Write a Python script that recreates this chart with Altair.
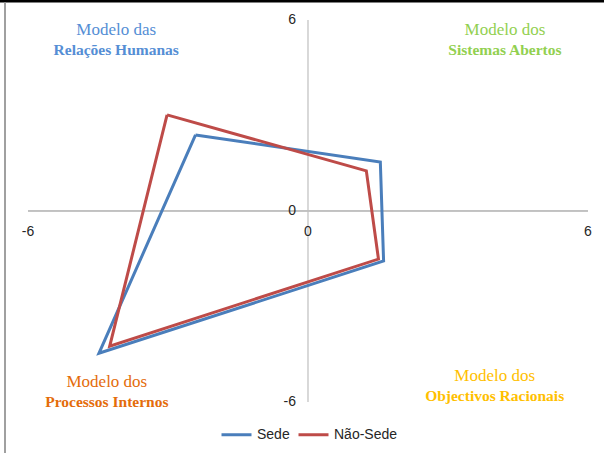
import altair as alt
import pandas as pd

# Polygon vertices (x, y)
sede_x = [-2.41, 1.55, 1.62, -4.48]
sede_y = [2.39, 1.54, -1.57, -4.47]
nao_x = [-3.02, 1.25, 1.51, -4.25]
nao_y = [3.02, 1.26, -1.51, -4.25]

series_names = ["Sede", "Não-Sede"]
series_colors = ["#4A7EBB", "#BE4B48"]

tick_vals = [-6, 0, 6]

quad_top = ["Modelo das", "Modelo dos", "Modelo dos", "Modelo dos"]
quad_bottom = ["Relações Humanas", "Sistemas Abertos", "Processos Internos", "Objectivos Racionais"]
quad_colors = ["#558ED5", "#92D050", "#E46C0A", "#FFC000"]
quad_x = [-4.11, 4.22, -4.31, 4.0]
quad_y1 = [5.69, 5.69, -5.37, -5.18]
quad_y2 = [5.06, 5.06, -6.0, -5.81]

rows = []
for name, xs, ys in [("Sede", sede_x, sede_y), ("Não-Sede", nao_x, nao_y)]:
    n = len(xs)
    for i in range(n + 1):
        rows.append({"serie": name, "x": xs[i % n], "y": ys[i % n], "o": i})
poly = pd.DataFrame(rows)

W, H = 604, 453
xs_ = alt.Scale(domain=[-6.6, 6.343], range=[0, W], nice=False, zero=False)
ys_ = alt.Scale(domain=[-7.603, 6.629], range=[H, 0], nice=False, zero=False)

X = lambda f: alt.X(f, type="quantitative", scale=xs_, axis=None)
Y = lambda f: alt.Y(f, type="quantitative", scale=ys_, axis=None)

# axes
hax = alt.Chart(pd.DataFrame({"x": [tick_vals[0]], "x2": [tick_vals[-1]], "y": [0]})).mark_rule(
    color="#868686", strokeWidth=1).encode(x=X("x"), x2="x2", y=Y("y"))
vax = alt.Chart(pd.DataFrame({"y": [tick_vals[0]], "y2": [tick_vals[-1]], "x": [0]})).mark_rule(
    color="#BFBFBF", strokeWidth=1.2).encode(y=Y("y"), y2="y2", x=X("x"))

xt = alt.Chart(pd.DataFrame({"v": tick_vals, "z": [0] * 3, "t": [str(v) for v in tick_vals]})).mark_text(
    font="Liberation Sans", fontSize=14, color="#262626", dy=21, align="center", baseline="middle"
).encode(x=X("v"), y=Y("z"), text="t:N")
yt = alt.Chart(pd.DataFrame({"v": tick_vals, "z": [0] * 3, "t": [str(v) for v in tick_vals]})).mark_text(
    font="Liberation Sans", fontSize=14, color="#262626", dx=-12, align="right", baseline="middle"
).encode(x=X("z"), y=Y("v"), text="t:N")

qdf = pd.DataFrame({"x": quad_x, "y1": quad_y1, "y2": quad_y2, "t1": quad_top, "t2": quad_bottom, "c": quad_colors})
q1 = alt.Chart(qdf).mark_text(font="Liberation Serif", fontSize=17, align="center", baseline="middle").encode(
    x=X("x"), y=Y("y1"), text="t1:N", color=alt.Color("c:N", scale=None))
q2 = alt.Chart(qdf).mark_text(font="Liberation Serif", fontSize=15.5, fontWeight="bold", align="center", baseline="middle").encode(
    x=X("x"), y=Y("y2"), text="t2:N", color=alt.Color("c:N", scale=None))

lines = alt.Chart(poly).mark_line(strokeWidth=3, strokeJoin="miter").encode(
    x=X("x"), y=Y("y"), order="o:Q",
    color=alt.Color("serie:N", scale=alt.Scale(domain=series_names, range=series_colors),
                    legend=alt.Legend(title=None, orient="none", legendX=220, legendY=418, direction="horizontal",
                                      symbolType="stroke", symbolStrokeWidth=3, symbolSize=900,
                                      labelFont="Liberation Sans", labelFontSize=14, labelColor="#262626",
                                      columnPadding=2, labelOffset=4)),
)

top_frame = alt.Chart(pd.DataFrame({"a": [0]})).mark_rule(color="#000000", strokeWidth=2.5).encode(
    x=alt.value(0), x2=alt.value(W), y=alt.value(1.2))
left_frame = alt.Chart(pd.DataFrame({"a": [0]})).mark_rule(color="#A0A0A0", strokeWidth=2).encode(
    x=alt.value(5), y=alt.value(2.5), y2=alt.value(H))

chart = alt.layer(hax, vax, xt, yt, q1, q2, lines, top_frame, left_frame).properties(
    width=W, height=H, padding=0, autosize=alt.AutoSizeParams(type="none"), background="white"
).configure_view(stroke=None)

chart.save("out.html", embed_options={"renderer": "svg", "actions": False})
